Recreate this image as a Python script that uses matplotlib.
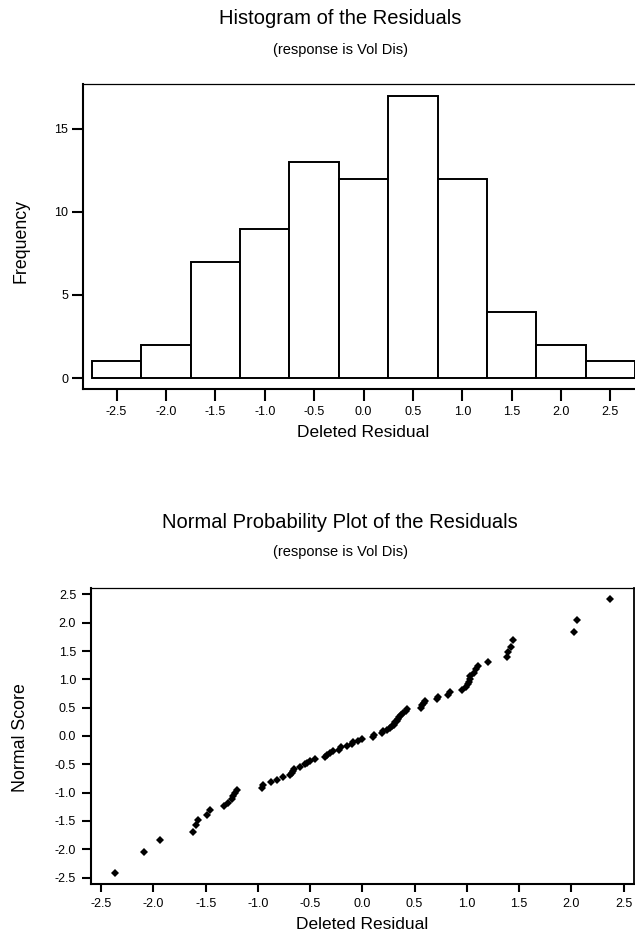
import matplotlib
matplotlib.use("Agg")
import matplotlib.pyplot as plt

plt.rcParams['font.family'] = ['Liberation Sans', 'DejaVu Sans']

# histogram of deleted residuals
bin_centers = [-2.5, -2.0, -1.5, -1.0, -0.5, 0.0, 0.5, 1.0, 1.5, 2.0, 2.5]
counts = [1, 2, 7, 9, 13, 12, 17, 12, 4, 2, 1]
hist_xticks = [-2.5, -2.0, -1.5, -1.0, -0.5, 0.0, 0.5, 1.0, 1.5, 2.0, 2.5]
hist_yticks = [0, 5, 10, 15]

# normal probability plot (sorted residuals and their normal scores)
residuals = [-2.37, -2.09, -1.94, -1.62, -1.59, -1.57, -1.49, -1.46, -1.32, -1.29,
             -1.245, -1.235, -1.22, -1.20, -0.965, -0.955, -0.87, -0.82, -0.76, -0.69,
             -0.675, -0.665, -0.655, -0.60, -0.55, -0.53, -0.50, -0.455, -0.36, -0.34,
             -0.31, -0.28, -0.22, -0.20, -0.15, -0.10, -0.085, -0.04, 0.00, 0.10,
             0.11, 0.19, 0.20, 0.235, 0.26, 0.28, 0.30, 0.31, 0.33, 0.345,
             0.355, 0.37, 0.39, 0.42, 0.43, 0.56, 0.57, 0.59, 0.60, 0.71,
             0.72, 0.82, 0.84, 0.955, 0.99, 1.01, 1.025, 1.03, 1.035, 1.07,
             1.085, 1.11, 1.20, 1.385, 1.39, 1.42, 1.445, 2.03, 2.05, 2.37]
normal_scores = [-2.42, -2.05, -1.84, -1.69, -1.58, -1.48, -1.39, -1.31, -1.24, -1.18,
                 -1.11, -1.06, -1.01, -0.96, -0.91, -0.86, -0.82, -0.77, -0.73, -0.69,
                 -0.65, -0.61, -0.58, -0.54, -0.50, -0.47, -0.44, -0.40, -0.37, -0.33,
                 -0.30, -0.27, -0.24, -0.20, -0.17, -0.14, -0.11, -0.08, -0.05, -0.02,
                 0.02, 0.05, 0.08, 0.11, 0.14, 0.17, 0.20, 0.24, 0.27, 0.30,
                 0.33, 0.37, 0.40, 0.44, 0.47, 0.50, 0.54, 0.58, 0.61, 0.65,
                 0.69, 0.73, 0.77, 0.82, 0.86, 0.91, 0.96, 1.01, 1.06, 1.11,
                 1.18, 1.24, 1.31, 1.39, 1.48, 1.58, 1.69, 1.84, 2.05, 2.42]
npp_ticks = [-2.5, -2.0, -1.5, -1.0, -0.5, 0.0, 0.5, 1.0, 1.5, 2.0, 2.5]

W, H = 635, 941
fig = plt.figure(figsize=(W / 100, H / 100), dpi=100)


def px_axes(left, top, right, bottom):
    return fig.add_axes([left / W, 1 - bottom / H, (right - left) / W, (bottom - top) / H])


def style(ax, ylen, xlen, ypad, xpad):
    ax.spines['left'].set_linewidth(1.5)
    ax.spines['bottom'].set_linewidth(1.5)
    ax.spines['top'].set_linewidth(0.9)
    ax.spines['right'].set_linewidth(1.3)
    ax.tick_params(axis='y', direction='out', length=ylen, width=1.5, labelsize=9, pad=ypad)
    ax.tick_params(axis='x', direction='out', length=xlen, width=1.5, labelsize=9, pad=xpad)


# ---- histogram ----
ax1 = px_axes(83, 84, 644, 389)
ax1.bar(bin_centers, counts, width=0.5, color='white', edgecolor='black', linewidth=1.4)
ax1.set_xlim(-2.84, 2.84)
ax1.set_ylim(-0.66, 17.7)
ax1.set_xticks(hist_xticks)
ax1.set_xticklabels([f"{t:.1f}" for t in hist_xticks])
ax1.set_yticks(hist_yticks)
style(ax1, 8, 8.5, 2.7, 3.6)
ax1.set_xlabel("Deleted Residual", fontsize=12.5, labelpad=5)
fig.text(20.7 / W, 1 - 241 / H, "Frequency", rotation=90, ha='center', va='center', fontsize=12.8)
fig.text(340 / W, 1 - 18 / H, "Histogram of the Residuals", ha='center', va='center', fontsize=14.5)
fig.text(340 / W, 1 - 50 / H, "(response is Vol Dis)", ha='center', va='center', fontsize=10.5)

# ---- normal probability plot ----
ax2 = px_axes(90.7, 587.7, 634, 884.3)
ax2.plot(residuals, normal_scores, linestyle='none', marker='D', markersize=4.3,
         color='black', markeredgewidth=0)
ax2.set_xlim(-2.6, 2.6)
ax2.set_ylim(-2.62, 2.62)
ax2.set_xticks(npp_ticks)
ax2.set_xticklabels([f"{t:.1f}" for t in npp_ticks])
ax2.set_yticks(npp_ticks)
ax2.set_yticklabels([f"{t:.1f}" for t in npp_ticks])
style(ax2, 6.5, 6, 4, 3.6)
ax2.set_xlabel("Deleted Residual", fontsize=12.5, labelpad=5)
fig.text(20.7 / W, 1 - 738 / H, "Normal Score", rotation=90, ha='center', va='center', fontsize=12.8)
fig.text(340 / W, 1 - 523 / H, "Normal Probability Plot of the Residuals", ha='center', va='center', fontsize=14.5)
fig.text(340 / W, 1 - 552 / H, "(response is Vol Dis)", ha='center', va='center', fontsize=10.5)

fig.savefig("out.png", dpi=100)
